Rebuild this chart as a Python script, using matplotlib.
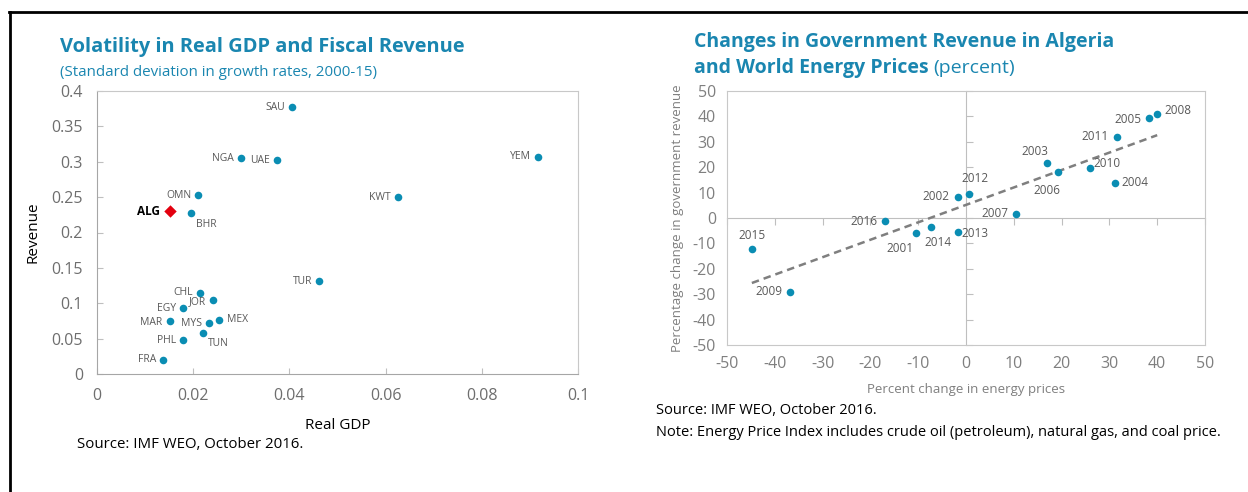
import numpy as np
import matplotlib
matplotlib.use('Agg')
import matplotlib.pyplot as plt

plt.rcParams['font.family'] = ['Open Sans', 'DejaVu Sans']
plt.rcParams['axes.unicode_minus'] = False

# left chart: volatility (std dev of growth rates, 2000-15)
countries = ['SAU', 'NGA', 'UAE', 'YEM', 'OMN', 'KWT', 'BHR', 'TUR', 'CHL', 'JOR',
             'EGY', 'MAR', 'MYS', 'MEX', 'PHL', 'TUN', 'FRA']
gdp_vol = [0.0405, 0.0299, 0.0374, 0.0917, 0.0210, 0.0626, 0.0195, 0.0462, 0.0214, 0.0241,
           0.0179, 0.0152, 0.0233, 0.0254, 0.0179, 0.0220, 0.0137]
rev_vol = [0.377, 0.305, 0.302, 0.307, 0.253, 0.250, 0.228, 0.131, 0.114, 0.105,
           0.093, 0.075, 0.072, 0.076, 0.048, 0.058, 0.020]
alg_gdp = 0.0152
alg_rev = 0.230

# right chart: Algeria revenue vs energy prices
years = ['2015', '2009', '2016', '2001', '2014', '2013', '2002', '2012', '2007', '2003',
         '2006', '2010', '2004', '2011', '2005', '2008']
energy_chg = [-44.8, -36.8, -16.9, -10.5, -7.3, -1.7, -1.7, 0.6, 10.5, 16.9,
              19.2, 25.9, 31.2, 31.6, 38.3, 40.0]
revenue_chg = [-12.2, -29.1, -1.2, -5.9, -3.5, -5.5, 8.3, 9.4, 1.6, 21.7,
               18.1, 19.7, 13.8, 31.9, 39.4, 40.9]

teal = '#0a8db3'
title_col = '#1a86b0'
frame_col = '#c8c8c8'
lab_col = '#595959'
tick_col = '#6e6e6e'

W, H = 1248, 492
fig = plt.figure(figsize=(W / 100, H / 100), dpi=100)

def fx(px):
    return px / W

def fy(py):
    return 1 - py / H

# outer border (top and left only)
fig.add_artist(plt.Line2D([fx(9), 1], [fy(12), fy(12)], color='black', lw=2))
fig.add_artist(plt.Line2D([fx(10), fx(10)], [fy(12), 0], color='black', lw=2))

# ---------- left chart ----------
ax1 = fig.add_axes([fx(97), fy(374), fx(578 - 97), (374 - 91) / H])
ax1.scatter(gdp_vol, rev_vol, s=30, color=teal, zorder=3, linewidths=0)
ax1.scatter([alg_gdp], [alg_rev], s=40, color='#e3000f', marker='D', zorder=3, linewidths=0)
ax1.set_xlim(0, 0.1)
ax1.set_ylim(0, 0.4)
ax1.set_xticks([0, 0.02, 0.04, 0.06, 0.08, 0.1])
ax1.set_xticklabels(['0', '0.02', '0.04', '0.06', '0.08', '0.1'])
ax1.set_yticks([0, 0.05, 0.1, 0.15, 0.2, 0.25, 0.3, 0.35, 0.4])
ax1.set_yticklabels(['0', '0.05', '0.1', '0.15', '0.2', '0.25', '0.3', '0.35', '0.4'])
for s in ax1.spines.values():
    s.set_color(frame_col)
ax1.spines['bottom'].set_color('#a6a6a6')
ax1.spines['left'].set_color('#a6a6a6')
ax1.tick_params(direction='in', length=4, color='#bfbfbf', labelsize=11.5,
                labelcolor=tick_col, pad=10)
ax1.set_xlabel('Real GDP', fontsize=11, color='black', labelpad=10)
ax1.set_ylabel('Revenue', fontsize=11, color='black', labelpad=8)

# label offsets in pixels (dx, dy, ha)
left_offsets = {'BHR': (5, -12, 'left'), 'MEX': (8, 1, 'left'), 'TUN': (5, -11, 'left'),
                'CHL': (-7, 1, 'right'), 'MAR': (-8, -2, 'right'), 'JOR': (-7, -2, 'right')}
for name, x, y in zip(countries, gdp_vol, rev_vol):
    dx, dy, ha = left_offsets.get(name, (-7, 0, 'right'))
    ax1.annotate(name, (x, y), xytext=(dx * 0.72, dy * 0.72), textcoords='offset points',
                 ha=ha, va='center', fontsize=7.5, color=lab_col)
ax1.annotate('ALG', (alg_gdp, alg_rev), xytext=(-10 * 0.72, 0), textcoords='offset points',
             ha='right', va='center', fontsize=8.5, color='black', fontweight='bold')

fig.text(fx(60), fy(47), 'Volatility in Real GDP and Fiscal Revenue', fontsize=14.4,
         fontweight='bold', color=title_col, va='center')
fig.text(fx(60), fy(72), '(Standard deviation in growth rates, 2000-15)', fontsize=10.9,
         color=title_col, va='center')
fig.text(fx(77), fy(444), 'Source: IMF WEO, October 2016.', fontsize=10.8, va='center')

# ---------- right chart ----------
ax2 = fig.add_axes([fx(727), fy(345), fx(1205 - 727), (345 - 91) / H])
slope, icpt = np.polyfit(energy_chg, revenue_chg, 1)
xfit = np.array([min(energy_chg), max(energy_chg)])
ax2.plot(xfit, slope * xfit + icpt, ls=(0, (3, 2)), color='#7f7f7f', lw=1.8, zorder=2)
ax2.scatter(energy_chg, revenue_chg, s=30, color=teal, zorder=3, linewidths=0)
ax2.set_xlim(-50, 50)
ax2.set_ylim(-50, 50)
ticks = np.arange(-50, 51, 10)
ax2.set_xticks(ticks)
ax2.set_yticks(ticks)
for s in ax2.spines.values():
    s.set_color(frame_col)
ax2.tick_params(length=0, labelsize=11.5, labelcolor='#7f7f7f', pad=8)
ax2.set_xlabel('Percent change in energy prices', fontsize=9.5, color='#7f7f7f', labelpad=8)
ax2.set_ylabel('Percentage change in government revenue', fontsize=9.5, color='#7f7f7f',
               labelpad=6)

# zero axes with their ticks, no labels
secx = ax2.secondary_xaxis(0.5)
secx.set_xticks(ticks)
secx.set_xticklabels([])
secx.tick_params(direction='in', length=5, color='#bfbfbf')
for s in secx.spines.values():
    s.set_color('#bfbfbf')
secy = ax2.secondary_yaxis(0.5)
secy.set_yticks(ticks)
secy.set_yticklabels([])
secy.tick_params(direction='out', length=5, color='#bfbfbf')
for s in secy.spines.values():
    s.set_color('#bfbfbf')

right_offsets = {'2015': (0, 13, 'center'), '2009': (-8, 0, 'right'), '2016': (-8, 0, 'right'),
                 '2001': (-2, -16, 'right'), '2014': (7, -16, 'center'), '2013': (4, -2, 'left'),
                 '2002': (-8, 0, 'right'), '2012': (6, 16, 'center'), '2007': (-8, 0, 'right'),
                 '2003': (-12, 11, 'center'), '2006': (-11, -18, 'center'), '2010': (4, 4, 'left'),
                 '2004': (6, 0, 'left'), '2011': (-8, 0, 'right'), '2005': (-8, -2, 'right'),
                 '2008': (7, 4, 'left')}
for yr, x, y in zip(years, energy_chg, revenue_chg):
    dx, dy, ha = right_offsets[yr]
    ax2.annotate(yr, (x, y), xytext=(dx * 0.72, dy * 0.72), textcoords='offset points',
                 ha=ha, va='center', fontsize=8.5, color=lab_col)

fig.text(fx(694), fy(42), 'Changes in Government Revenue in Algeria', fontsize=14,
         fontweight='bold', color=title_col, va='center')
t = fig.text(fx(694), fy(68), 'and World Energy Prices', fontsize=14,
             fontweight='bold', color=title_col, va='center')
fig.canvas.draw()
bb = t.get_window_extent()
fig.text(bb.x1 / W + fx(5), fy(68), '(percent)', fontsize=14, color=title_col, va='center')
fig.text(fx(656), fy(411), 'Source: IMF WEO, October 2016.', fontsize=10.5, va='center')
fig.text(fx(656), fy(433),
         'Note: Energy Price Index includes crude oil (petroleum), natural gas, and coal price.',
         fontsize=10.5, va='center')

fig.savefig('out.png', dpi=100)
